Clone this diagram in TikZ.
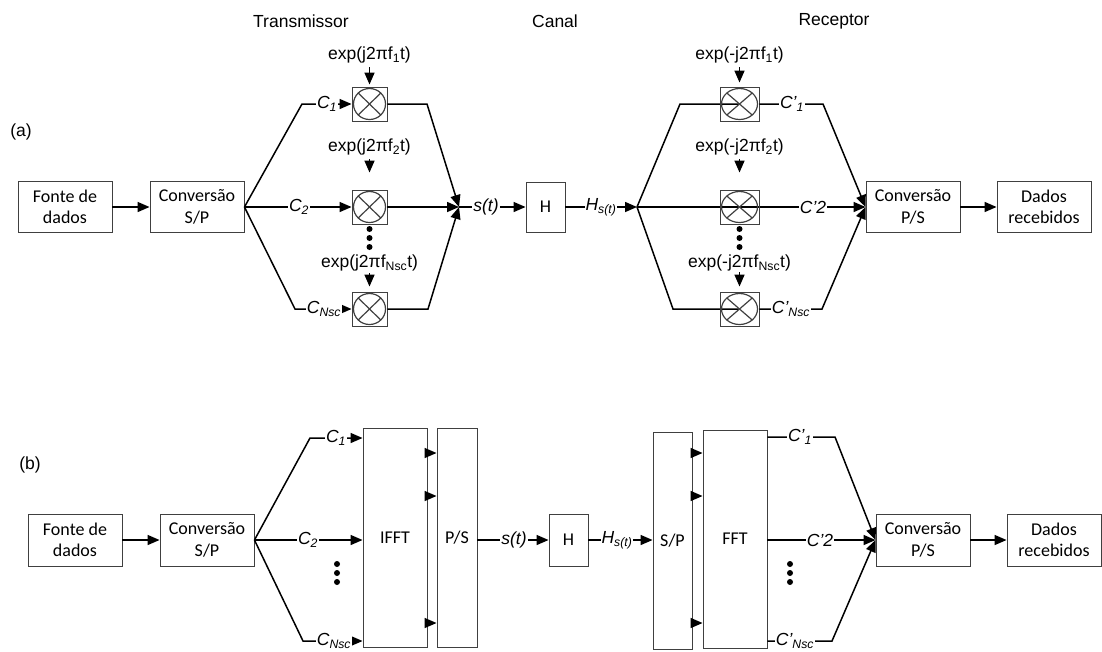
\documentclass[tikz,border=0pt]{standalone}
\usepackage{fontspec}
\setmainfont{Liberation Sans}
\newfontfamily\bxfamily{Carlito}
\newcommand\bxfont{\bxfamily\fontsize{18}{21.5}\selectfont}
\newcommand\lbfont{\fontsize{17.5}{20}\selectfont}
\usetikzlibrary{arrows.meta,calc}
\tikzset{
  box/.style={draw=black!75,line width=0.9pt,font=\bxfont,align=center,inner sep=0pt},
  conn/.style={line width=1.5pt},
  arr/.style={conn,-{Triangle[length=12pt,width=10pt]}},
  lbl/.style={fill=white,inner sep=1pt,font=\lbfont\itshape},
  txt/.style={inner sep=1pt,font=\lbfont},
  dot/.style={fill=black},
  mtx/.style={draw=black!75,line width=0.9pt,minimum width=35pt,minimum height=34pt,inner sep=0pt,
    path picture={
      \draw[line width=1.2pt] (path picture bounding box.center) ellipse [x radius=16pt, y radius=15.5pt];
      \draw[line width=1.2pt] ([shift={(-11.3,-11)}]path picture bounding box.center) -- ([shift={(11.3,11)}]path picture bounding box.center);
      \draw[line width=1.2pt] ([shift={(-11.3,11)}]path picture bounding box.center) -- ([shift={(11.3,-11)}]path picture bounding box.center);
    }},
  mrx/.style={draw=black!75,line width=0.9pt,minimum width=39pt,minimum height=34pt,inner sep=0pt,
    path picture={
      \draw[line width=1.2pt] (path picture bounding box.center) ellipse [x radius=18pt, y radius=15.5pt];
      \draw[line width=1.2pt] ([shift={(-12.7,-11)}]path picture bounding box.center) -- ([shift={(12.7,11)}]path picture bounding box.center);
      \draw[line width=1.2pt] ([shift={(-12.7,11)}]path picture bounding box.center) -- ([shift={(12.7,-11)}]path picture bounding box.center);
    }},
}
\begin{document}
\begin{tikzpicture}[x=1pt,y=-1pt]
\useasboundingbox (0,0) rectangle (1102,651);
% titles
\node[txt] (tT) at (301,21) {Transmissor};
\node[txt] (tC) at (555,21) {Canal};
\node[txt] (tR) at (834,21) {Receptor};
\node[txt] (la) at (21,132) {(a)};
\node[txt] (lb) at (30,465) {(b)};

% ===================== (a) =====================
\node[box,minimum width=94pt,minimum height=51pt] (fA) at (65,207) {Fonte de\\dados};
\node[box,minimum width=94pt,minimum height=51pt] (spA) at (197,207) {Conversão\\S/P};
\node[mtx] (m1) at (369.5,104) {};
\node[mtx] (m2) at (369.5,207) {};
\node[mtx] (m3) at (369.5,309) {};
\node[box,minimum width=39pt,minimum height=50pt] (HA) at (545.5,207) {H};
\node[box,minimum width=94pt,minimum height=51pt] (psA) at (913,207) {Conversão\\P/S};
\node[box,minimum width=94pt,minimum height=51pt] (dA) at (1044,207) {Dados\\recebidos};

\draw[arr] (fA) -- (spA);
\coordinate (kt1) at (302,104);
\coordinate (kb1) at (295,309);
\draw[arr] (spA.east) -- (kt1) -- (m1.west);
\draw[arr] (spA.east) -- (m2.west);
\draw[arr] (spA.east) -- (kb1) -- (m3.west);
\node[lbl] (c1) at (327,104) {C\textsubscript{1}};
\node[lbl] (c2) at (299,207) {C\textsubscript{2}};
\node[lbl] (c3) at (324,309) {C\textsubscript{Nsc}};

\node[txt] (e1) at (369.5,55) {exp(j2πf\textsubscript{1}t)};
\node[txt] (e2) at (369.5,147) {exp(j2πf\textsubscript{2}t)};
\node[txt] (e3) at (369.5,263) {exp(j2πf\textsubscript{Nsc}t)};
\draw[arr,shorten <=3pt,shorten >=2pt] (e1.south) -- (m1.north);
\draw[arr,shorten <=3pt,shorten >=17pt] (e2.south) -- (m2.north);
\draw[arr,shorten <=1pt,shorten >=5pt] (e3.south) -- (m3.north);
\fill[dot] (369.5,229) circle (3pt) (369.5,238) circle (3pt) (369.5,247) circle (3pt);

\coordinate (sum) at (459,207);
\coordinate (kt2) at (427,104);
\coordinate (kb2) at (428,309);
\draw[arr] (m1.east) -- (kt2) -- (sum);
\draw[arr] (m2.east) -- (sum);
\draw[arr] (m3.east) -- (kb2) -- (sum);
\draw[arr] (sum) -- (HA.west);
\node[lbl] (st) at (486,207) {s(t)};

\coordinate (fanR) at (637,207);
\draw[arr] (HA.east) -- (fanR);
\node[lbl] (hs) at (601,207) {H\textsubscript{s(t)}};

\coordinate (kr1) at (680,104);
\coordinate (kr3) at (673,309);
\draw[conn] (fanR) -- (kr1) -- (739.5,104);
\draw[arr] (fanR) -- (psA.west);
\draw[conn] (fanR) -- (kr3) -- (739.5,309);
\node[mrx] (r1) at (739.5,104) {};
\node[mrx] (r2) at (739.5,207) {};
\node[mrx] (r3) at (739.5,309) {};
\coordinate (ko1) at (823,104);
\coordinate (ko3) at (822,309);
\draw[arr] (r1.east) -- (ko1) -- (psA.west);
\draw[arr] (r3.east) -- (ko3) -- (psA.west);
\node[lbl] (d1) at (792,104) {C’\textsubscript{1}};
\node[lbl] (d2) at (813,207) {C’2};
\node[lbl] (d3) at (791,309) {C’\textsubscript{Nsc}};

\node[txt] (f1) at (739.5,55) {exp(-j2πf\textsubscript{1}t)};
\node[txt] (f2) at (739.5,147) {exp(-j2πf\textsubscript{2}t)};
\node[txt] (f3) at (739.5,263) {exp(-j2πf\textsubscript{Nsc}t)};
\draw[arr,shorten <=3pt,shorten >=4pt] (f1.south) -- (r1.north);
\draw[arr,shorten <=3pt,shorten >=17pt] (f2.south) -- (r2.north);
\draw[arr,shorten <=0pt,shorten >=5pt] (f3.south) -- (r3.north);
\fill[dot] (739.5,229) circle (3pt) (739.5,238) circle (3pt) (739.5,247) circle (3pt);

\draw[arr] (psA) -- (dA);

% ===================== (b) =====================
\node[box,minimum width=94pt,minimum height=52pt] (fB) at (75,540) {Fonte de\\dados};
\node[box,minimum width=94pt,minimum height=52pt] (spB) at (207,540) {Conversão\\S/P};
\node[box,minimum width=64pt,minimum height=219pt] (ifft) at (395,537.5) {IFFT};
\node[box,minimum width=40pt,minimum height=219pt] (psB) at (457,537.5) {P/S};
\node[box,minimum width=39pt,minimum height=52pt] (HB) at (568.5,540) {H};
\node[box,minimum width=39pt,minimum height=217pt] (spR) at (672.5,540.5) {S/P};
\node[box,minimum width=64pt,minimum height=218pt] (fft) at (735,539) {FFT};
\node[box,minimum width=94pt,minimum height=52pt] (psB2) at (923,540) {Conversão\\P/S};
\node[box,minimum width=94pt,minimum height=52pt] (dB) at (1054,540) {Dados\\recebidos};

\draw[arr] (fB) -- (spB);
\coordinate (kbt) at (310,438);
\coordinate (kbb) at (303,641);
\draw[arr] (spB.east) -- (kbt) -- (ifft.west |- kbt);
\draw[arr] (spB.east) -- (ifft.west |- spB.east);
\draw[arr] (spB.east) -- (kbb) -- (ifft.west |- kbb);
\node[lbl] (g1) at (336,438) {C\textsubscript{1}};
\node[lbl] (g2) at (308,540) {C\textsubscript{2}};
\node[lbl] (g3) at (334,641) {C\textsubscript{Nsc}};
\fill[dot] (337,564) circle (3pt) (337,573) circle (3pt) (337,582) circle (3pt);

\coordinate (ya) at (0,453);
\coordinate (yb) at (0,496);
\coordinate (yc) at (0,623);
\draw[arr] (ifft.east |- ya) -- (psB.west |- ya);
\draw[arr] (ifft.east |- yb) -- (psB.west |- yb);
\draw[arr] (ifft.east |- yc) -- (psB.west |- yc);

\draw[arr] (psB.east |- HB.west) -- (HB.west);
\node[lbl] (sb) at (514,540) {s(t)};
\draw[arr] (HB.east) -- (spR.west |- HB.east);
\node[lbl] (hb) at (617,540) {H\textsubscript{s(t)}};

\draw[arr] (spR.east |- ya) -- (fft.west |- ya);
\draw[arr] (spR.east |- yb) -- (fft.west |- yb);
\draw[arr] (spR.east |- yc) -- (fft.west |- yc);

\coordinate (kc1) at (835,437);
\coordinate (kc3) at (832,641);
\draw[arr] (fft.east |- kc1) -- (kc1) -- (psB2.west);
\draw[arr] (fft.east |- psB2.west) -- (psB2.west);
\draw[arr] (fft.east |- kc3) -- (kc3) -- (psB2.west);
\node[lbl] (h1) at (800,437) {C’\textsubscript{1}};
\node[lbl] (h2) at (820,540) {C’2};
\node[lbl] (h3) at (795,641) {C’\textsubscript{Nsc}};
\fill[dot] (790,564) circle (3pt) (790,573) circle (3pt) (790,582) circle (3pt);

\draw[arr] (psB2) -- (dB);
\end{tikzpicture}
\end{document}
